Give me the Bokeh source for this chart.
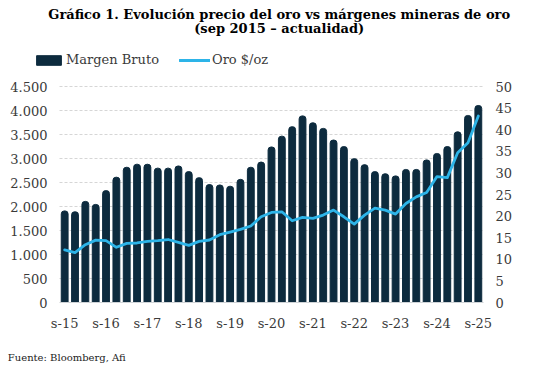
from bokeh.plotting import figure
from bokeh.models import (Range1d, LinearAxis, FixedTicker, Legend, LegendItem, ColumnDataSource)
from bokeh.embed import file_html
from bokeh.resources import INLINE

# ---- data ----
periods = ["s-15", "d-15", "m-16", "j-16", "s-16", "d-16", "m-17", "j-17", "s-17", "d-17",
           "m-18", "j-18", "s-18", "d-18", "m-19", "j-19", "s-19", "d-19", "m-20", "j-20",
           "s-20", "d-20", "m-21", "j-21", "s-21", "d-21", "m-22", "j-22", "s-22", "d-22",
           "m-23", "j-23", "s-23", "d-23", "m-24", "j-24", "s-24", "d-24", "m-25", "j-25",
           "s-25"]
margen_bruto = [21.2, 21.0, 23.4, 22.7, 25.9, 29.0, 31.3, 32.0, 32.0, 31.1,
                31.1, 31.6, 30.3, 28.9, 27.3, 27.2, 26.9, 28.5, 31.3, 32.5,
                36.0, 38.5, 40.7, 43.2, 41.6, 40.3, 37.6, 36.1, 33.3, 31.9,
                30.3, 29.8, 29.3, 30.8, 30.8, 33.0, 34.5, 36.1, 39.5, 43.3,
                45.6]
oro = [1095, 1040, 1205, 1300, 1290, 1150, 1232, 1240, 1273, 1290,
       1312, 1252, 1190, 1273, 1302, 1412, 1468, 1523, 1593, 1786,
       1876, 1890, 1703, 1772, 1751, 1821, 1925, 1786, 1634, 1821,
       1966, 1925, 1842, 2062, 2201, 2291, 2623, 2602, 3121, 3329,
       3884]
left_ticks = [0, 500, 1000, 1500, 2000, 2500, 3000, 3500, 4000, 4500]
right_ticks = [0, 5, 10, 15, 20, 25, 30, 35, 40, 45, 50]
title_lines = ["Gráfico 1. Evolución precio del oro vs márgenes mineras de oro",
               "(sep 2015 – actualidad)"]
series_names = ["Margen Bruto", "Oro $/oz"]
source_text = "Fuente: Bloomberg, Afi"

BAR = "#0d2b3e"
LINE = "#2db4e8"
TXT = "#3a3a3a"
SERIF = "DejaVu Serif"

# ---- layout constants (figure pixels) ----
W, H = 532, 370
FRAME_L, DATA_L, FRAME_R = 33, 59, 483     # frame starts left of the data area to host the legend
FRAME_T, DATA_T, FRAME_B = 45, 86, 302     # frame starts above the data area to host the legend
n = len(periods)
ppu = (FRAME_R - DATA_L) / n
x_start = -0.5 - (DATA_L - FRAME_L) / ppu
x_end = n - 0.5
ratio = (FRAME_B - FRAME_T) / (FRAME_B - DATA_T)
y_top = left_ticks[-1] * ratio
pct_top = right_ticks[-1] * ratio

idx = list(range(n))
src = ColumnDataSource(dict(x=idx, mb=margen_bruto, oro=oro))

p = figure(width=W, height=H, output_backend="svg", toolbar_location=None,
           x_range=Range1d(x_start, x_end), y_range=Range1d(0, y_top),
           min_border_left=FRAME_L, min_border_right=W - FRAME_R,
           min_border_top=FRAME_T, min_border_bottom=H - FRAME_B)
p.outline_line_color = None
p.background_fill_color = "white"
p.border_fill_color = "white"
p.extra_y_ranges = {"pct": Range1d(0, pct_top)}
p.extra_x_ranges = {"txt": Range1d(0, 1000)}   # helper range for header/footer text rows

# dashed horizontal grid restricted to the data area
grid_y = left_ticks[1:]
p.segment(x0=[-0.5] * len(grid_y), x1=[x_end] * len(grid_y), y0=grid_y, y1=grid_y,
          line_color="#d6d6d6", line_dash="3 2", line_width=1)

bars = p.vbar(x="x", top="mb", width=0.66, source=src, color=BAR, y_range_name="pct",
              border_radius=(3, 3, 0, 0))
line = p.line(x="x", y="oro", source=src, line_color=LINE, line_width=2.8,
              line_join="round", line_cap="round")

def bare(ax):
    ax.axis_line_color = None
    ax.major_tick_line_color = None
    ax.minor_tick_line_color = None
    ax.major_tick_out = 0
    ax.major_tick_in = 0
    ax.minor_tick_out = 0
    ax.minor_tick_in = 0

p.xgrid.visible = False
p.ygrid.visible = False

p.xaxis.ticker = FixedTicker(ticks=idx[::4])
p.xaxis.major_label_overrides = {i: periods[i] for i in idx[::4]}
bare(p.xaxis[0])
p.xaxis.axis_line_color = "#cfd3d6"
p.xaxis.axis_line_width = 1.2
p.xaxis.bounds = (-0.5, x_end)
p.xaxis.major_label_standoff = 13

p.yaxis.ticker = FixedTicker(ticks=left_ticks)
p.yaxis.major_label_overrides = {v: f"{v:,}".replace(",", ".") for v in left_ticks}
bare(p.yaxis[0])
p.yaxis.major_label_standoff = -(DATA_L - FRAME_L - 12)   # labels end 12px left of the data area

raxis = LinearAxis(y_range_name="pct", ticker=FixedTicker(ticks=right_ticks), major_label_standoff=12)
bare(raxis)
p.add_layout(raxis, "right")

for ax in [p.xaxis[0], p.yaxis[0], raxis]:
    ax.major_label_text_font = SERIF
    ax.major_label_text_font_size = "13px"
    ax.major_label_text_color = TXT

# legend inside the (extended) frame, above the data area
legend = Legend(items=[LegendItem(label=series_names[0], renderers=[bars]),
                       LegendItem(label=series_names[1], renderers=[line])],
                orientation="horizontal", location=(0, FRAME_B - 67), margin=0, padding=0,
                spacing=20, label_standoff=2, glyph_width=31, glyph_height=12, label_height=14,
                border_line_color=None, background_fill_alpha=0,
                label_text_font=SERIF, label_text_font_size="13px", label_text_color=TXT)
p.add_layout(legend, "center")

# title / source rows (single-label axes on the helper range)
def text_row(text, pos, side, standoff, size, bold, color):
    ax = LinearAxis(x_range_name="txt", ticker=FixedTicker(ticks=[pos]),
                    major_label_overrides={pos: text}, major_label_standoff=standoff)
    bare(ax)
    ax.major_label_text_font = SERIF
    ax.major_label_text_font_size = size
    ax.major_label_text_font_style = "bold" if bold else "normal"
    ax.major_label_text_color = color
    p.add_layout(ax, side)

text_row(title_lines[1], 546, "above", 10, "13px", True, "black")
text_row(title_lines[0], 546, "above", -4, "13px", True, "black")
text_row(source_text, 74, "below", 18, "10px", False, "#222222")

open("out.html", "w").write(file_html(p, INLINE))
